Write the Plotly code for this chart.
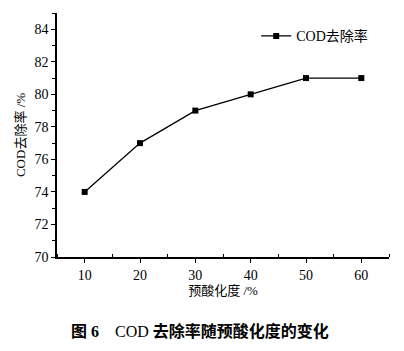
import plotly.graph_objects as go

x_vals = [10, 20, 30, 40, 50, 60]
cod_removal = [74, 77, 79, 80, 81, 81]
x_ticks = [10, 20, 30, 40, 50, 60]
y_ticks = [70, 72, 74, 76, 78, 80, 82, 84]

serif = "Liberation Serif, Times New Roman, Noto Sans CJK SC, serif"

fig = go.Figure()
fig.add_trace(go.Scatter(
    x=x_vals, y=cod_removal, mode="lines+markers", name="COD去除率",
    line=dict(color="black", width=1.3),
    marker=dict(symbol="square", size=6, color="black"),
))

fig.update_layout(
    width=404, height=351,
    margin=dict(l=57, r=15, t=13, b=94),
    paper_bgcolor="white", plot_bgcolor="white",
    font=dict(family=serif, size=13, color="black"),
    showlegend=True,
    legend=dict(x=0.6, y=0.97, xanchor="left", yanchor="top",
                bgcolor="rgba(0,0,0,0)", font=dict(family=serif, size=14),
                itemwidth=30),
    xaxis=dict(range=[5, 65], tickvals=x_ticks, showgrid=False, zeroline=False,
               showline=True, linecolor="black", linewidth=1.5,
               ticks="outside", ticklen=4, tickcolor="black",
               minor=dict(tickvals=[5, 15, 25, 35, 45, 55, 65], ticks="inside", ticklen=3, tickcolor="black"),
               tickfont=dict(family=serif, size=14),
               title=dict(text="预酸化度 /%", font=dict(family=serif, size=13), standoff=4)),
    yaxis=dict(range=[70, 85], tickvals=y_ticks, showgrid=False, zeroline=False,
               showline=True, linecolor="black", linewidth=1.5,
               ticks="outside", ticklen=4, tickcolor="black",
               minor=dict(tickvals=[71, 73, 75, 77, 79, 81, 83, 85], ticks="outside", ticklen=3, tickcolor="black"),
               tickfont=dict(family=serif, size=14),
               title=dict(text="COD去除率 /%", font=dict(family=serif, size=13), standoff=6)),
)

fig.add_annotation(
    text="<b>图 6</b>    COD <b>去除率随预酸化度的变化</b>",
    xref="paper", yref="paper", x=0.43, y=-0.26, xanchor="center", yanchor="top",
    showarrow=False, font=dict(family="Liberation Serif, Noto Sans CJK SC", size=16, color="black"),
)

fig.write_html("out.html")
